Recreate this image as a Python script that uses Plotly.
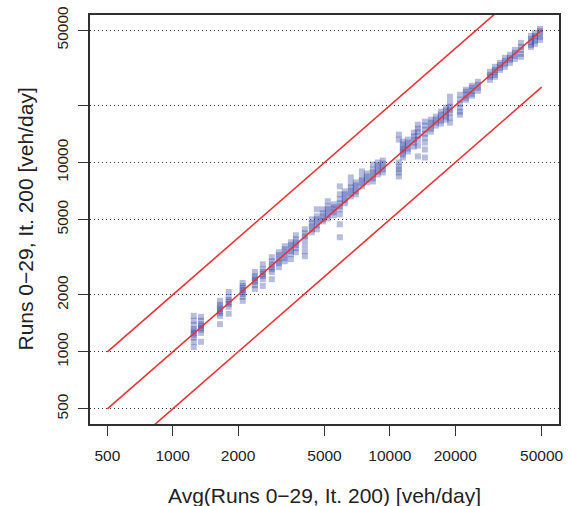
import plotly.graph_objects as go

# Average daily volume per road segment (runs 0-29, iteration 200)
segment_avg = [
    1250, 1350, 1650, 1810, 2100, 2390, 2600, 2860, 3080, 3280,
    3500, 3690, 4060, 4370, 4610, 4910, 5180, 5520, 5880, 6200,
    6610, 6970, 7430, 7830, 8350, 8800, 9280, 11000, 11480, 12100,
    12900, 13460, 14500, 15450, 16290, 17180, 18120, 18910, 21020, 22400,
    23870, 25440, 28900, 30470, 32130, 33880, 35730, 37670, 40160, 44650,
    46590, 49120,
]

# Individual run volumes for each segment
run_volumes = [
    [1550, 1460, 1390, 1320, 1290, 1260, 1230, 1190, 1130, 1060],
    [1530, 1460, 1400, 1370, 1340, 1310, 1260, 1130],
    [1860, 1770, 1730, 1680, 1640, 1600, 1550, 1400],
    [2070, 1950, 1880, 1830, 1790, 1730, 1590],
    [2310, 2230, 2170, 2120, 2070, 2020, 1950, 1860],
    [2640, 2510, 2450, 2390, 2340, 2250, 2150],
    [2900, 2730, 2640, 2570, 2510, 2420, 2230],
    [3160, 3010, 2900, 2800, 2730, 2640, 2420],
    [3360, 3240, 3120, 3010, 2940, 2800],
    [3610, 3480, 3360, 3240, 3120, 3010],
    [3790, 3660, 3530, 3400, 3280, 3090],
    [4130, 3930, 3790, 3660, 3530, 3360],
    [4440, 4230, 4080, 3930, 3660, 3400, 3200],
    [5010, 4780, 4610, 4440, 4280],
    [5660, 5200, 5010, 4830, 4660, 4440],
    [5660, 5390, 5200, 5010, 4890],
    [6240, 5870, 5660, 5460, 5260, 5070],
    [6010, 5800, 5660, 5460, 5260],
    [7480, 6790, 6390, 6090, 5870, 5660, 5320, 4720, 4030],
    [7040, 6790, 6540, 6310, 6090],
    [8340, 7760, 7390, 7120, 6870, 6620],
    [7850, 7570, 7300, 7040, 6790],
    [8970, 8340, 8040, 7760, 7480],
    [8750, 8440, 8140, 7850],
    [9760, 9190, 8860, 8540, 8240, 7940],
    [10000, 9640, 9300, 8970, 8650],
    [10240, 9880, 9530, 9190, 8860],
    [14040, 13220, 10000, 9530, 9190, 8860, 8440],
    [12900, 12440, 11990, 11710, 11430, 11020, 10630],
    [13220, 12740, 12290, 11850, 11430],
    [14390, 13710, 13220, 12740, 12140],
    [15850, 15100, 14560, 13870, 13220, 12290, 10760],
    [16440, 15660, 14920, 14210, 13540, 12740, 11710, 10630],
    [16840, 16240, 15660, 15100, 14560],
    [17470, 16840, 16240, 15660],
    [18560, 17890, 17250, 16640, 16050],
    [19480, 18780, 18110, 17470, 16840],
    [22260, 20700, 19720, 19010, 18330, 17250, 16240],
    [22800, 21460, 20450, 19480, 18560, 17890],
    [24220, 23640, 22800, 21990, 21460],
    [25420, 24810, 23930, 23080, 22530],
    [26690, 25730, 24810, 23930],
    [30130, 29050, 28360, 27340],
    [32010, 30870, 30130, 29050, 28360],
    [33600, 32790, 31620, 30870],
    [35700, 34420, 33190, 32010],
    [37030, 35700, 34840, 33600],
    [39330, 37940, 36580, 35270],
    [42820, 40780, 39330, 37480, 36140],
    [46630, 44960, 43350, 41800, 40780],
    [48350, 46630, 45510, 43880, 42310],
    [50750, 49540, 47770, 46060, 44420],
]

# Reference lines y = r * x
ref_ratios = [2.0, 1.0, 0.5]
ref_span = [500, 50000]

tick_vals = [500, 1000, 2000, 5000, 10000, 20000, 50000]
x_tick_text = ["500", "1000", "2000", "5000", "10000", "20000", "50000"]
y_tick_text = ["500", "1000", "2000", "5000", "10000", "", "50000"]

xs, ys = [], []
for avg, runs in zip(segment_avg, run_volumes):
    for v in runs:
        xs.append(avg)
        ys.append(v)

fig = go.Figure()
fig.add_trace(go.Scatter(
    x=xs, y=ys, mode="markers",
    marker=dict(symbol="square", size=6, color="rgba(40,62,160,0.34)",
                line=dict(width=0)),
    hoverinfo="skip", showlegend=False,
))
for r in ref_ratios:
    fig.add_trace(go.Scatter(
        x=ref_span, y=[v * r for v in ref_span], mode="lines",
        line=dict(color="rgb(235,50,50)", width=1.6),
        hoverinfo="skip", showlegend=False,
    ))

font_main = "Liberation Sans, Arial, sans-serif"
axis_common = dict(
    type="log", range=[2.619, 4.779], tickvals=tick_vals,
    ticks="outside", ticklen=10, tickwidth=1.3, tickcolor="#333",
    showline=True, mirror=True, linecolor="#303030", linewidth=1.8,
    zeroline=False, automargin=False,
    tickfont=dict(family=font_main, size=15.5, color="#222"),
)

fig.update_xaxes(**axis_common, ticktext=x_tick_text, showgrid=False,
                 ticklabelstandoff=6)
fig.update_yaxes(**axis_common, ticktext=y_tick_text, tickangle=-90,
                 showgrid=True, gridcolor="#333", gridwidth=1,
                 griddash="1px,3px", ticklabelstandoff=4)

fig.add_annotation(text="Avg(Runs 0\u221229, It. 200) [veh/day]",
                   xref="paper", yref="paper", x=0.5, y=0,
                   xanchor="center", yanchor="middle", yshift=-71,
                   showarrow=False,
                   font=dict(family=font_main, size=21, color="#222"))
fig.add_annotation(text="Runs 0\u221229, It. 200 [veh/day]",
                   xref="paper", yref="paper", x=0, y=0.5,
                   xanchor="center", yanchor="middle", xshift=-65,
                   textangle=-90, showarrow=False,
                   font=dict(family=font_main, size=21, color="#222"))

fig.update_layout(
    width=569, height=506,
    margin=dict(l=90, r=10, t=15, b=82),
    paper_bgcolor="white", plot_bgcolor="white",
)

fig.write_html("out.html")
